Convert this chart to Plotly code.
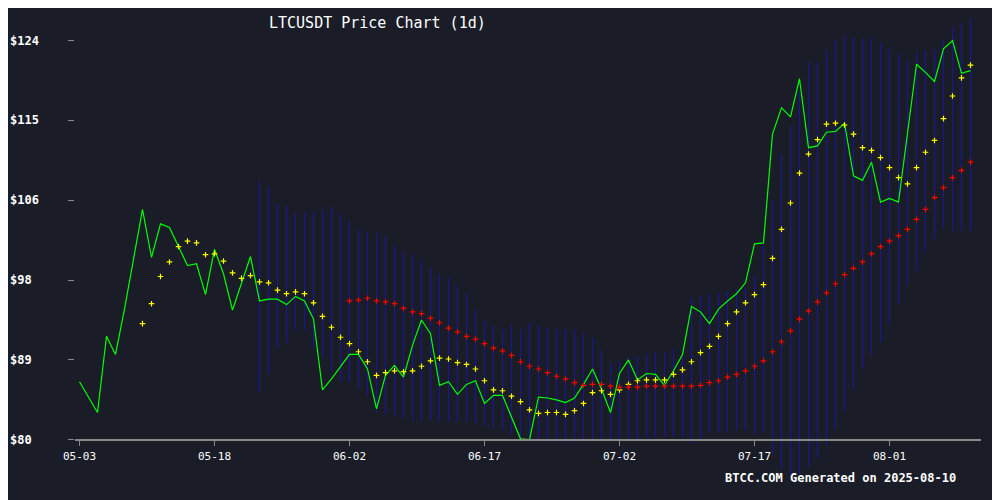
import pandas as pd
import plotly.graph_objects as go

dates = pd.date_range("2025-05-03", periods=100, freq="D")
days = list(range(100))

close = [86.4, 84.7, 83.0, 91.4, 89.4, 94.4, 99.7, 105.4, 100.1, 103.8,
         103.4, 101.2, 99.2, 99.4, 96.0, 101.0, 98.3, 94.3, 97.2, 100.2,
         95.3, 95.5, 95.5, 94.9, 95.8, 95.3, 93.3, 85.5, 86.7, 88.0,
         89.4, 89.4, 87.8, 83.4, 87.1, 88.2, 86.9, 90.4, 93.2, 91.7,
         86.0, 86.4, 85.0, 86.1, 86.5, 84.0, 84.9, 84.9, 82.4, 80.1,
         80.0, 84.7, 84.6, 84.4, 84.1, 84.6, 86.1, 87.8, 85.6, 83.0,
         87.3, 88.8, 86.6, 87.3, 87.2, 86.0, 87.6, 89.4, 94.7, 94.1,
         92.8, 94.4, 95.3, 96.1, 97.3, 101.6, 101.7, 113.7, 116.6, 115.6,
         119.8, 112.2, 112.4, 113.9, 114.0, 114.9, 109.1, 108.6, 110.6, 106.2,
         106.6, 106.2, 113.8, 121.4, 120.5, 119.5, 123.1, 124.0, 120.4, 120.7]

# short moving average (starts day 7)
ma_short = [None] * 7 + [
    92.8, 95.0, 98.0, 99.6, 101.3, 101.9, 101.7, 100.4, 100.5, 99.7,
    98.4, 97.8, 98.1, 97.4, 97.3, 96.5, 96.1, 96.3, 96.1, 95.1,
    93.6, 92.4, 91.3, 90.6, 89.7, 88.6, 87.1, 87.4, 87.6, 87.5,
    87.6, 88.1, 88.7, 89.0, 88.9, 88.5, 88.3, 87.8, 86.5, 85.5,
    85.4, 84.8, 84.2, 83.3, 82.9, 83.0, 83.0, 82.8, 83.2, 84.0,
    85.2, 85.4, 85.0, 85.5, 86.1, 86.5, 86.6, 86.6, 86.6, 87.2,
    87.7, 88.6, 89.6, 90.3, 91.4, 92.8, 94.1, 95.1, 96.0, 97.1,
    100.0, 103.2, 106.1, 109.4, 111.5, 113.1, 114.8, 114.9, 114.7, 113.7,
    112.2, 111.9, 111.1, 110.0, 108.9, 108.2, 110.0, 111.7, 113.0, 115.4,
    117.9, 119.9, 121.3]

# long moving average (starts day 30)
ma_long = [None] * 30 + [
    95.3, 95.4, 95.6, 95.3, 95.2, 95.0, 94.5, 94.1, 93.9, 93.4,
    92.9, 92.3, 91.9, 91.4, 91.1, 90.6, 90.1, 89.8, 89.3, 88.6,
    88.1, 87.8, 87.4, 87.0, 86.7, 86.3, 86.0, 86.1, 86.1, 85.9,
    85.8, 85.8, 85.8, 85.9, 85.9, 85.9, 85.9, 85.9, 85.9, 86.0,
    86.3, 86.5, 86.9, 87.2, 87.6, 88.1, 88.7, 89.7, 90.8, 92.0,
    93.3, 94.2, 95.2, 96.2, 97.2, 98.2, 98.9, 99.6, 100.5, 101.3,
    101.9, 102.5, 103.2, 104.3, 105.4, 106.7, 107.8, 108.9, 109.7, 110.6]

# band extents (start day 20)
band_upper = [None] * 20 + [
    108.6, 107.8, 106.0, 105.8, 105.1, 105.1, 105.1, 105.3, 105.7, 105.0,
    104.0, 103.2, 102.9, 102.8, 102.5, 101.4, 100.7, 100.4, 99.8, 99.0,
    98.3, 97.9, 97.0, 96.2, 94.4, 93.1, 92.6, 92.2, 92.7, 92.2,
    92.9, 92.6, 92.4, 92.2, 92.2, 92.2, 91.8, 91.3, 89.8, 88.5,
    88.7, 89.1, 89.3, 89.5, 89.7, 89.7, 90.0, 90.0, 95.7, 95.9,
    96.0, 96.2, 96.4, 96.6, 96.8, 98.1, 101.4, 106.4, 111.5, 114.6,
    118.5, 121.6, 121.6, 122.9, 124.1, 124.7, 124.4, 124.2, 124.3, 123.8,
    123.1, 122.5, 121.8, 122.7, 123.0, 123.1, 124.0, 125.5, 125.9, 126.4]
band_lower = [None] * 20 + [
    85.3, 87.2, 90.1, 90.6, 92.1, 92.0, 90.2, 89.1, 87.6, 86.5,
    86.3, 85.6, 84.9, 83.0, 82.8, 82.6, 82.4, 82.2, 82.1, 82.1,
    82.0, 82.0, 82.0, 82.0, 81.8, 81.5, 81.2, 81.0, 80.6, 80.2,
    79.9, 79.8, 79.8, 79.8, 79.7, 79.7, 79.8, 79.9, 80.0, 80.0,
    80.0, 80.0, 80.1, 80.2, 80.2, 80.3, 80.3, 80.3, 79.6, 80.0,
    80.8, 80.8, 80.8, 81.0, 81.0, 80.6, 80.8, 78.4, 76.8, 76.2,
    76.2, 76.9, 78.0, 79.3, 81.0, 83.2, 85.6, 87.8, 89.2, 90.7,
    92.8, 95.0, 97.0, 98.6, 100.7, 102.1, 103.4, 103.0, 103.0, 103.0]

x_tick_days = [0, 15, 30, 45, 60, 75, 90]
x_tick_text = [dates[d].strftime("%m-%d") for d in x_tick_days]
y_tick_vals = [80, 88.8, 97.6, 106.4, 115.2, 124]
y_tick_text = ["$80", "$89", "$98", "$106", "$115", "$124"]

BG = "#1a1d28"
FONT = "DejaVu Sans Mono"
Y0, Y1 = 76, 126.5
L, T, PW, PH = 67, 10, 906, 458  # plot box, compensating the page's 8px body margin

fig = go.Figure()

# vertical band lines, one segment per day separated by None
bx, by = [], []
for d, lo, hi in zip(days, band_lower, band_upper):
    if lo is None:
        continue
    bx += [d, d, None]
    by += [lo, hi, None]
fig.add_trace(go.Scatter(x=bx, y=by, mode="lines",
                         line=dict(color="#1616a0", width=1), hoverinfo="skip"))

fig.add_trace(go.Scatter(x=days, y=close, mode="lines",
                         line=dict(color="#00ff00", width=1.2)))
fig.add_trace(go.Scatter(x=days, y=ma_short, mode="markers",
                         marker=dict(symbol="cross-thin", size=4, color="#ffff00",
                                     line=dict(color="#ffff00", width=1.2))))
fig.add_trace(go.Scatter(x=days, y=ma_long, mode="markers",
                         marker=dict(symbol="cross-thin", size=4, color="#ff0000",
                                     line=dict(color="#ff0000", width=1.2))))

for v, t in zip(y_tick_vals, y_tick_text):
    fig.add_annotation(x=-(75 - 8) / PW, xref="paper", y=v, yref="y", text="<b>" + t + "</b>",
                       showarrow=False, xanchor="left",
                       font=dict(family=FONT, size=12, color="white"))

fig.add_annotation(x=(377 - 75) / PW, xref="paper", y=(500 - 22 - 25) / PH, yref="paper",
                   yanchor="middle", text="LTCUSDT Price Chart (1d)", showarrow=False,
                   font=dict(family=FONT, size=15, color="white"))
fig.add_annotation(x=(958 - 75) / PW, xref="paper", y=-(477 - 475) / PH, yref="paper",
                   yanchor="middle", text="<b>BTCC.COM Generated on 2025-08-10</b>",
                   showarrow=False, font=dict(family=FONT, size=12, color="white"))

fig.update_layout(
    width=1000, height=500, showlegend=False,
    paper_bgcolor=BG, plot_bgcolor=BG,
    margin=dict(l=L, r=1000 - L - PW, t=T, b=500 - T - PH),
)
fig.update_xaxes(range=[-0.5, 100.166], showgrid=False, zeroline=False,
                 tickvals=x_tick_days, ticktext=x_tick_text,
                 anchor="free", position=(80 - Y0) / (Y1 - Y0),
                 showline=True, linecolor="#888", linewidth=1.5,
                 ticks="outside", ticklen=6, tickcolor="#888",
                 tickfont=dict(family=FONT, size=11, color="white"))
fig.update_yaxes(range=[Y0, Y1], showgrid=False, zeroline=False,
                 tickvals=y_tick_vals, showticklabels=False,
                 ticks="outside", ticklen=6, tickcolor="#888")

fig.write_html("out.html")
